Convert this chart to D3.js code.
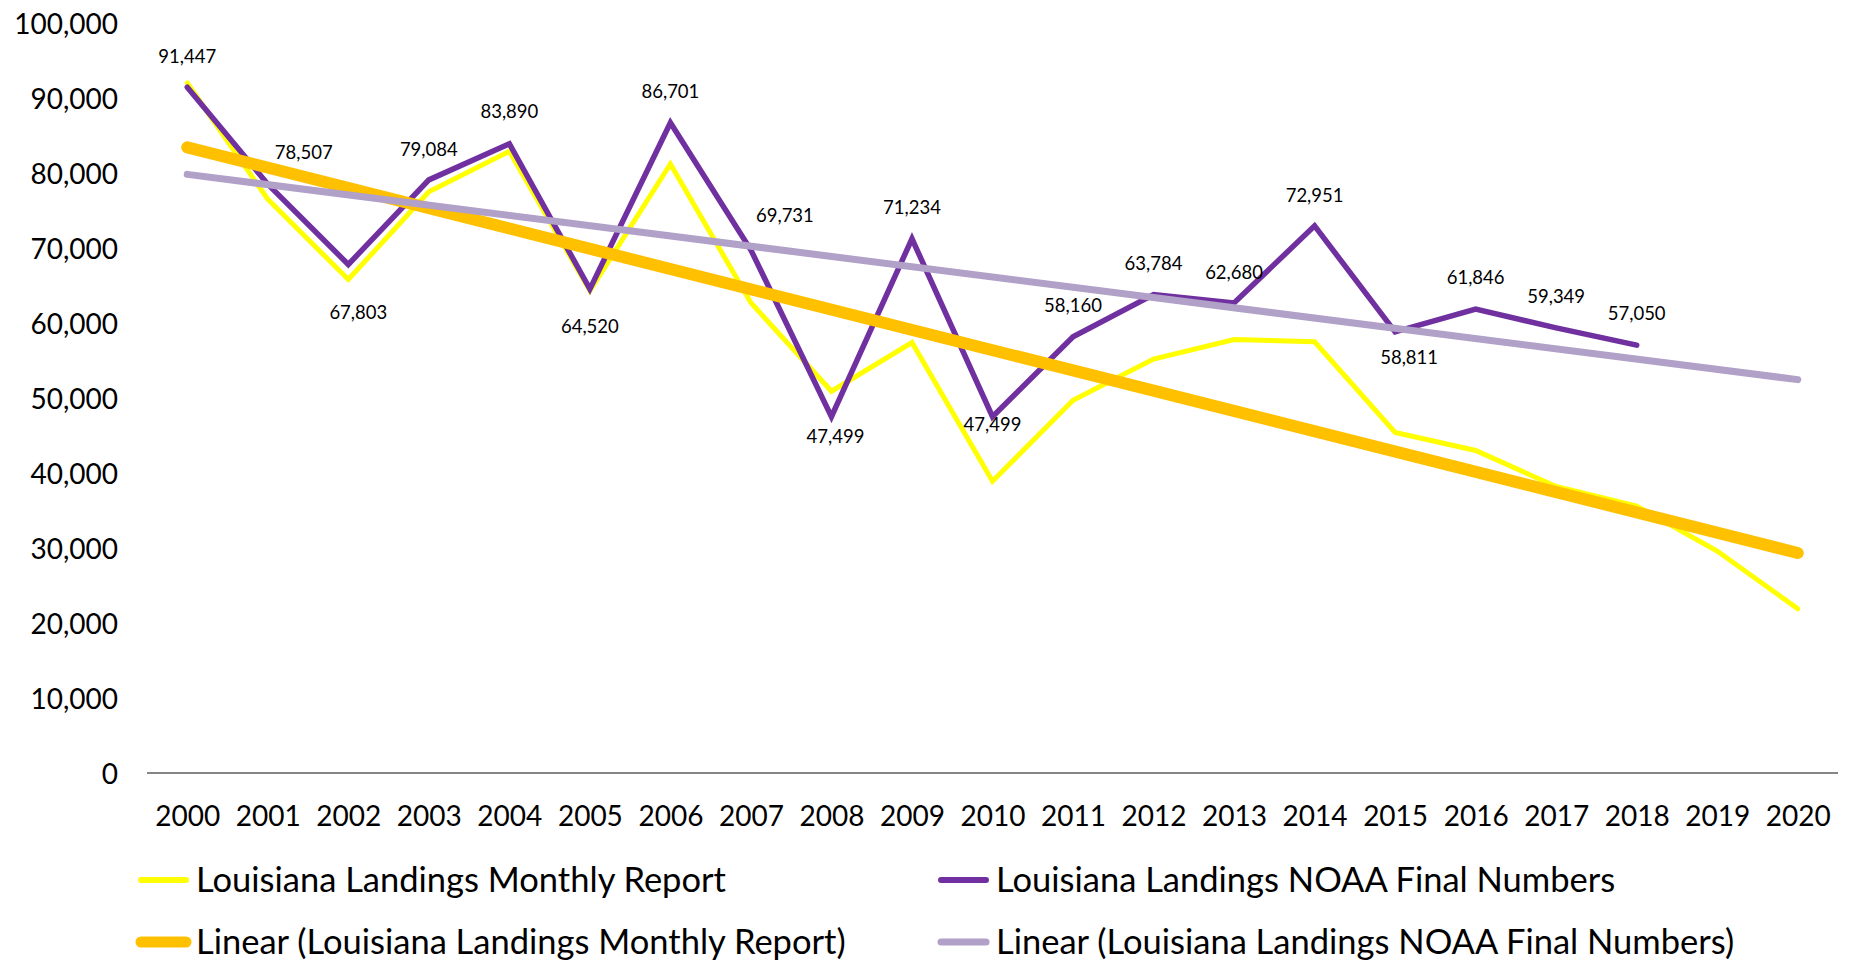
<!DOCTYPE html>
<html>
<head>
<meta charset="utf-8">
<script src="https://cdn.jsdelivr.net/npm/d3@7"></script>
<style>
  body { margin: 0; background: #fff; }
  svg text { font-family: Lato, "Open Sans", sans-serif; fill: #000; }
</style>
</head>
<body>
<div id="chart"></div>
<script>
var years = ["2000", "2001", "2002", "2003", "2004", "2005", "2006", "2007", "2008", "2009", "2010",
             "2011", "2012", "2013", "2014", "2015", "2016", "2017", "2018", "2019", "2020"];

// Louisiana Landings Monthly Report
var monthlyReport = [92000, 76500, 65800, 77500, 82900, 64300, 81200, 62700, 50900, 57400, 38900,
                     49700, 55200, 57800, 57500, 45400, 43000, 38200, 35600, 29600, 21900];

// Louisiana Landings NOAA Final Numbers (2000-2018, labelled)
var noaaFinal = [91447, 78507, 67803, 79084, 83890, 64520, 86701, 69731, 47499, 71234, 47499,
                 58160, 63784, 62680, 72951, 58811, 61846, 59349, 57050];

var yTicks = [0, 10000, 20000, 30000, 40000, 50000, 60000, 70000, 80000, 90000, 100000];

var seriesNames = ["Louisiana Landings Monthly Report", "Louisiana Landings NOAA Final Numbers",
                   "Linear (Louisiana Landings Monthly Report)", "Linear (Louisiana Landings NOAA Final Numbers)"];

// where each NOAA data label sits relative to its point (layout only)
var labelNudge = [[0, -31], [36, -32], [10, 48], [0, -31], [0, -32], [0, 37], [0, -31], [34, -35],
                  [4, 20], [0, -31], [0, 8], [0, -31], [0, -31], [0, -31], [0, -31], [14, 25],
                  [0, -32], [0, -32], [0, -32]];

var W = 1850, H = 960;
var colYellow = "#FFFF00", colPurple = "#7030A0", colOrange = "#FFC000", colLav = "#B1A0C7";

var svg = d3.select("#chart").append("svg")
    .attr("width", W)
    .attr("height", H);

var x = d3.scalePoint().domain(years).range([147, 1838]).padding(0.5);
var y = d3.scaleLinear().domain([0, 100000]).range([773, 23]);
var fmt = d3.format(",");

// y axis labels only
var yAxis = svg.append("g")
    .attr("transform", "translate(118,0)")
    .call(d3.axisLeft(y).tickValues(yTicks).tickFormat(fmt).tickSize(0).tickPadding(0));
yAxis.select(".domain").remove();
yAxis.selectAll("text")
    .attr("font-size", 28)
    .attr("font-family", null)
    .attr("dy", "0.36em");

// x axis
var xAxis = svg.append("g")
    .attr("transform", "translate(0,773)")
    .call(d3.axisBottom(x).tickSize(0).tickPadding(33));
xAxis.select(".domain")
    .attr("stroke", "#868686")
    .attr("stroke-width", 2)
    .attr("d", "M147,0H1838");
xAxis.selectAll("text")
    .attr("font-size", 28)
    .attr("font-family", null);

// least squares trend over the index of each year
function fit(vals) {
    var mx = d3.mean(vals, function(d, i) { return i; });
    var my = d3.mean(vals);
    var sxy = 0, sxx = 0;
    vals.forEach(function(v, i) { sxy += (i - mx) * (v - my); sxx += (i - mx) * (i - mx); });
    var b = sxy / sxx;
    var a = my - b * mx;
    return years.map(function(yr, i) { return a + b * i; });
}

var line = d3.line()
    .x(function(d, i) { return x(years[i]); })
    .y(function(d) { return y(d); });

function straight(vals) {
    var t = fit(vals);
    var last = years.length - 1;
    return "M" + x(years[0]) + "," + y(t[0]) + "L" + x(years[last]) + "," + y(t[last]);
}

svg.append("path")
    .attr("d", line(monthlyReport))
    .attr("fill", "none")
    .attr("stroke", colYellow)
    .attr("stroke-width", 5)
    .attr("stroke-linecap", "round");

svg.append("path")
    .attr("d", line(noaaFinal))
    .attr("fill", "none")
    .attr("stroke", colPurple)
    .attr("stroke-width", 5.5)
    .attr("stroke-linecap", "round");

svg.append("path")
    .attr("d", straight(monthlyReport))
    .attr("fill", "none")
    .attr("stroke", colOrange)
    .attr("stroke-width", 12)
    .attr("stroke-linecap", "round");

svg.append("path")
    .attr("d", straight(noaaFinal))
    .attr("fill", "none")
    .attr("stroke", colLav)
    .attr("stroke-width", 7)
    .attr("stroke-linecap", "round");

// data labels on the NOAA series
svg.append("g").selectAll("text")
    .data(noaaFinal)
    .enter().append("text")
    .attr("x", function(d, i) { return x(years[i]) + labelNudge[i][0]; })
    .attr("y", function(d, i) { return y(d) + labelNudge[i][1]; })
    .attr("dy", "0.36em")
    .attr("text-anchor", "middle")
    .attr("font-size", 18.5)
    .text(function(d) { return fmt(d); });

// legend
var legendItems = [
    {name: seriesNames[0], color: colYellow, w: 6, lx: 138, ly: 880},
    {name: seriesNames[1], color: colPurple, w: 6, lx: 938, ly: 880},
    {name: seriesNames[2], color: colOrange, w: 11, lx: 138, ly: 942},
    {name: seriesNames[3], color: colLav, w: 7, lx: 938, ly: 942}
];

var lg = svg.append("g").selectAll("g")
    .data(legendItems)
    .enter().append("g")
    .attr("transform", function(d) { return "translate(" + d.lx + "," + d.ly + ")"; });

lg.append("line")
    .attr("x1", 3).attr("x2", 48)
    .attr("stroke", function(d) { return d.color; })
    .attr("stroke-width", function(d) { return d.w; })
    .attr("stroke-linecap", "round");

lg.append("text")
    .attr("x", 58)
    .attr("dy", "0.36em")
    .attr("font-size", 34.5)
    .text(function(d) { return d.name; });
</script>
</body>
</html>
